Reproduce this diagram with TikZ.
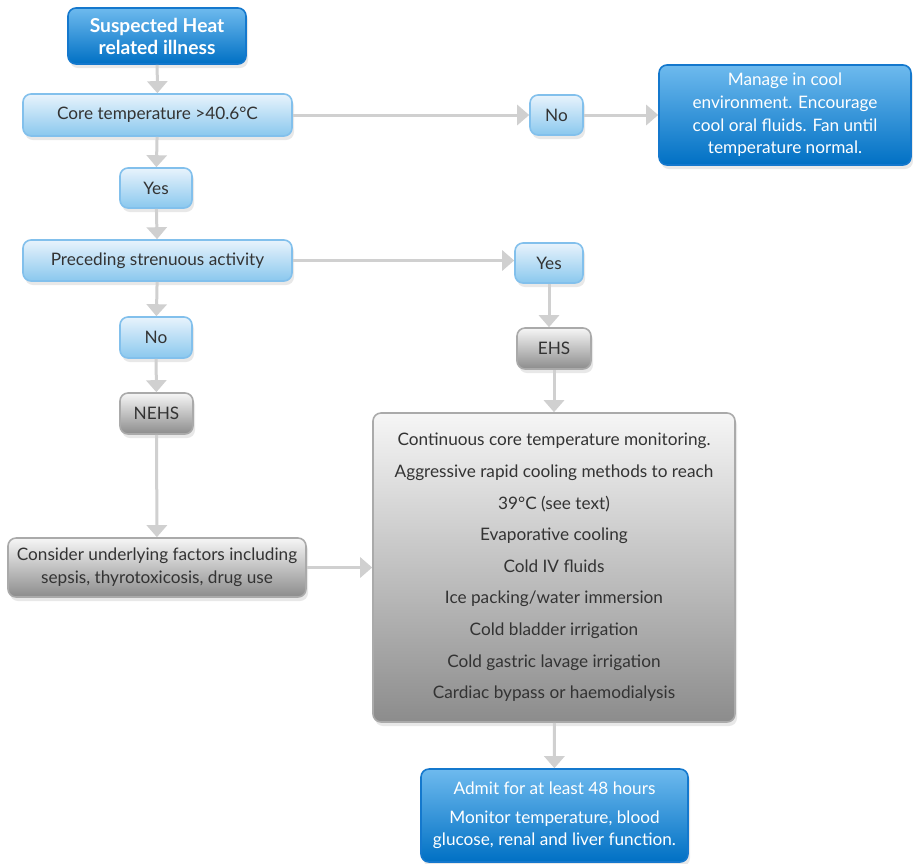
\documentclass[tikz,border=0pt]{standalone}
\usepackage{fontspec}
\setmainfont{Lato}
\usetikzlibrary{arrows.meta, positioning, shadows}
\definecolor{textgrey}{RGB}{51,51,51}
\definecolor{linegrey}{RGB}{208,208,208}
\definecolor{paleblue}{RGB}{232,243,252}
\definecolor{midblue}{RGB}{138,200,238}
\definecolor{edgeblue}{RGB}{130,192,236}
\definecolor{deepblue}{RGB}{0,112,196}
\definecolor{brightblue}{RGB}{110,186,238}
\definecolor{darkedge}{RGB}{20,120,205}
\definecolor{greytop}{RGB}{246,246,246}
\definecolor{greybot}{RGB}{140,140,140}
\definecolor{greyedge}{RGB}{170,170,170}

\tikzset{
  box/.style={rounded corners=4pt, align=center, inner sep=0pt, line width=0.8pt,
    drop shadow={shadow xshift=1pt, shadow yshift=-2pt, opacity=0.18}},
  lightbox/.style={box, draw=edgeblue, top color=paleblue, bottom color=midblue, text=textgrey},
  darkbox/.style={box, draw=darkedge, top color=brightblue, bottom color=deepblue, text=white},
  greybox/.style={box, draw=greyedge, top color=greytop, bottom color=greybot, text=textgrey},
  flow/.style={draw=linegrey, line width=1.5pt, -{Triangle[length=6pt, width=10pt]}},
}

\begin{document}
\begin{tikzpicture}[x=0.5pt, y=-0.5pt, font=\fontsize{8.6}{11.3}\selectfont]
  \useasboundingbox (0,0) rectangle (913,863);

  % left column
  \node[darkbox, minimum width=89pt, minimum height=28pt, font=\fontsize{9.6}{11}\selectfont\bfseries]
    (susp) at (157,36) {Suspected Heat\\related illness};
  \node[lightbox, minimum width=134.5pt, minimum height=21pt] (core) at (157.5,115) {Core temperature >40.6°C};
  \node[lightbox, minimum width=36pt, minimum height=20pt] (yesA) at (156,188) {Yes};
  \node[lightbox, minimum width=134.5pt, minimum height=20.5pt] (prec) at (157.5,260.5) {Preceding strenuous activity};
  \node[lightbox, minimum width=36pt, minimum height=20.5pt] (noB) at (156,337.5) {No};
  \node[greybox, minimum width=36.5pt, minimum height=20.5pt] (nehs) at (156.5,413.5) {NEHS};
  \node[greybox, minimum width=149pt, minimum height=29.5pt] (factors) at (157,567.5)
    {Consider underlying factors including\\sepsis, thyrotoxicosis, drug use};

  % right side
  \node[lightbox, minimum width=26.5pt, minimum height=20pt] (noA) at (556.5,115) {No};
  \node[darkbox, minimum width=126pt, minimum height=50pt] (manage) at (785,115)
    {Manage in cool\\environment. Encourage\\cool oral fluids. Fan until\\temperature normal.};
  \node[lightbox, minimum width=34pt, minimum height=20pt] (yesB) at (549,263) {Yes};
  \node[greybox, minimum width=37pt, minimum height=20.5pt] (ehs) at (554,348.5) {EHS};
  \node[greybox, minimum width=181pt, minimum height=154.5pt, font=\fontsize{8.6}{15.8}\selectfont]
    (cooling) at (554,567.5)
    {Continuous core temperature monitoring.\\Aggressive rapid cooling methods to reach\\39°C (see text)\\
     Evaporative cooling\\Cold IV fluids\\Ice packing/water immersion\\Cold bladder irrigation\\
     Cold gastric lavage irrigation\\Cardiac bypass or haemodialysis};
  \node[darkbox, minimum width=133.5pt, minimum height=46.5pt] (admit) at (554.5,815.5)
    {Admit for at least 48 hours\\[3pt]Monitor temperature, blood\\glucose, renal and liver function.};

  % connectors
  \draw[flow] (susp) -- (core);
  \draw[flow] (core) -- (yesA);
  \draw[flow] (yesA) -- (prec);
  \draw[flow] (prec) -- (noB);
  \draw[flow] (noB) -- (nehs);
  \draw[flow] (nehs) -- (factors);
  \draw[flow] (core) -- (noA);
  \draw[flow] (noA) -- (manage);
  \draw[flow] (prec.east) -- (prec.east -| yesB.west);
  \draw[flow] (yesB.south) -- (yesB.south |- ehs.north);
  \draw[flow] (ehs) -- (cooling);
  \draw[flow] (factors.east) -- (factors.east -| cooling.west);
  \draw[flow] (cooling) -- (admit);
\end{tikzpicture}
\end{document}
